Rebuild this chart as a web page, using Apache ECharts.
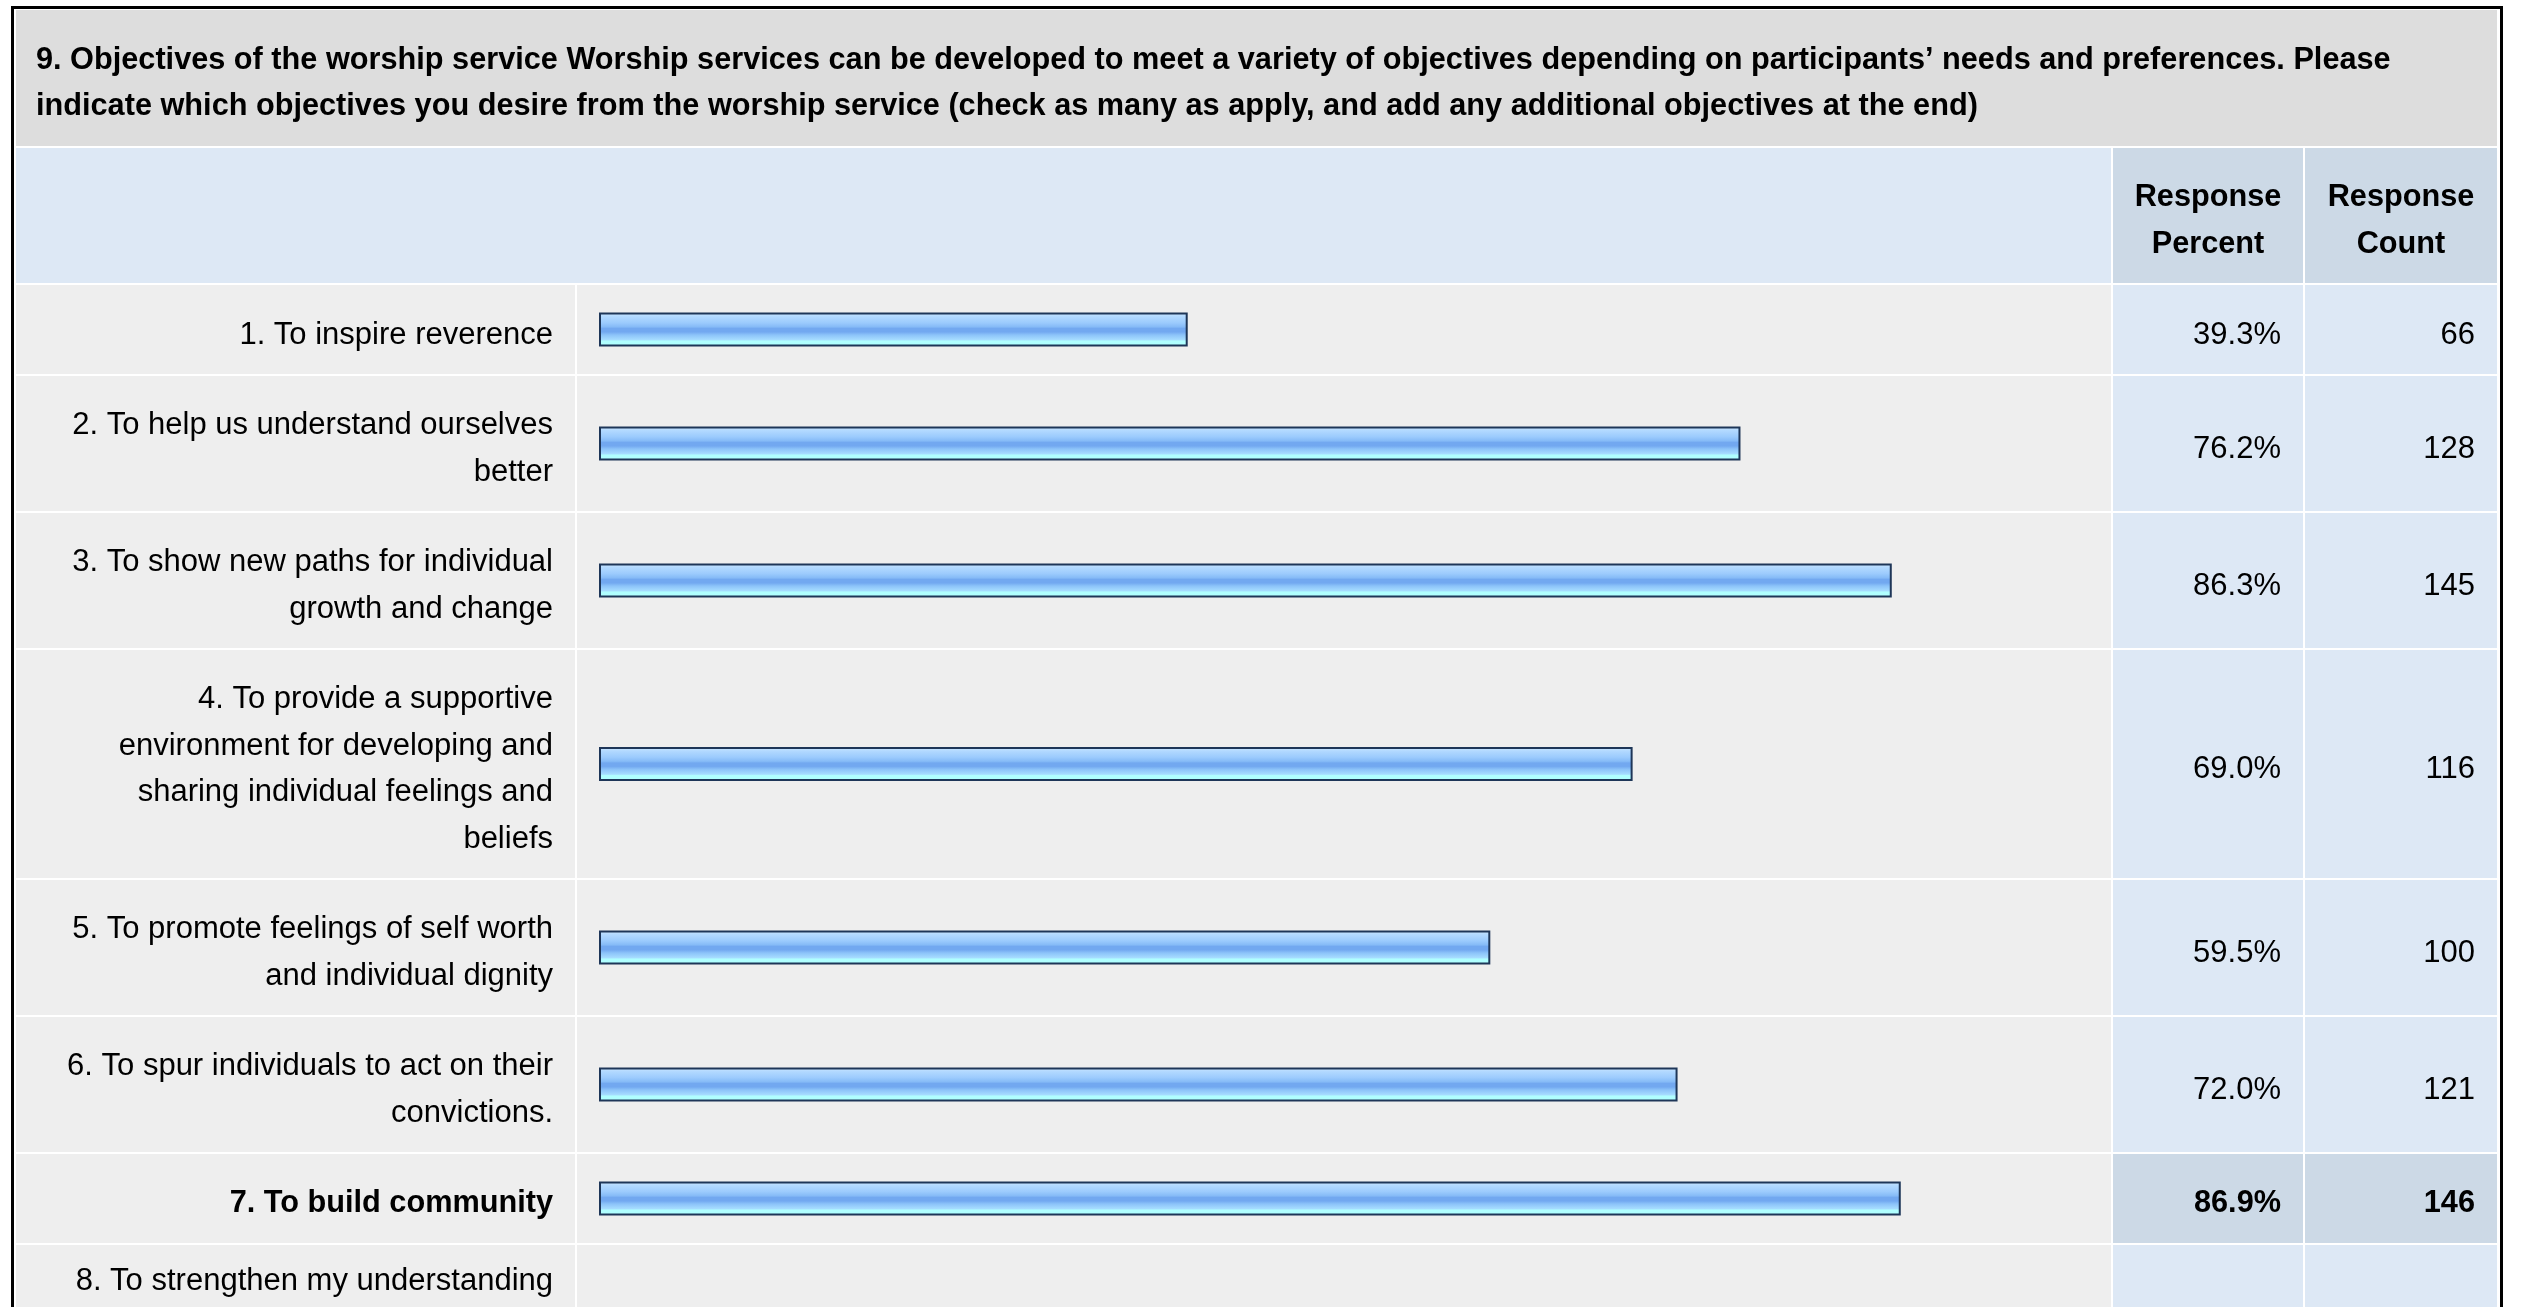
<!DOCTYPE html>
<html>
<head>
<meta charset="utf-8">
<script src="https://cdn.jsdelivr.net/npm/echarts@6/dist/echarts.min.js"></script>
<style>
html,body{margin:0;padding:0;background:#ffffff;}
#chart{width:2525px;height:1307px;}
</style>
</head>
<body>
<div id="chart"></div>
<script>
// ---- data ----
const titleText = '9. Objectives of the worship service Worship services can be developed to meet a variety of objectives depending on participants\u2019 needs and preferences. Please\nindicate which objectives you desire from the worship service (check as many as apply, and add any additional objectives at the end)';
const headerPercent = 'Response\nPercent';
const headerCount = 'Response\nCount';
const categories = [
  '1. To inspire reverence',
  '2. To help us understand ourselves\nbetter',
  '3. To show new paths for individual\ngrowth and change',
  '4. To provide a supportive\nenvironment for developing and\nsharing individual feelings and\nbeliefs',
  '5. To promote feelings of self worth\nand individual dignity',
  '6. To spur individuals to act on their\nconvictions.',
  '7. To build community',
  '8. To strengthen my understanding'
];
const responsePercent = [39.3, 76.2, 86.3, 69.0, 59.5, 72.0, 86.9, null];
const responseCount = [66, 128, 145, 116, 100, 121, 146, null];

// ---- layout ----
const FONT = '"Liberation Sans", Arial, Helvetica, sans-serif';
const FS = 31, FSB = 30.7, LH = 46.5, DY = 5.5;
const X0 = 16, XLAB = 575, XBAR0 = 577, XBAR1 = 2111, XP0 = 2113, XP1 = 2303, XC0 = 2305, XC1 = 2497;
const TITLE_TOP = 10, TITLE_BOT = 146, HEAD_TOP = 148, HEAD_BOT = 283, ROW0 = 285;
const GAP = 2;

const validPct = responsePercent.filter(v => v != null);
const maxPct = Math.max.apply(null, validPct);
const hiIdx = responsePercent.indexOf(maxPct);

const rowTops = [], rowHs = [];
let y = ROW0;
categories.forEach(c => {
  const lines = c.split('\n').length;
  const h = Math.round(42 + LH * lines);
  rowTops.push(y); rowHs.push(h);
  y += h + GAP;
});

const graphics = [];
function rect(x0, y0, x1, y1, fill) {
  graphics.push({type: 'rect', z: -10, silent: true,
    shape: {x: x0, y: y0, width: x1 - x0, height: y1 - y0}, style: {fill: fill}});
}
function text(str, x, yy, align, bold) {
  graphics.push({type: 'text', z: 10, silent: true, x: x, y: yy + DY,
    style: {text: str, fill: '#000000', fontSize: bold ? FSB : FS, fontFamily: FONT,
      fontWeight: bold ? 'bold' : 'normal', align: align, verticalAlign: 'middle', lineHeight: LH}});
}

// outer frame
graphics.push({type: 'rect', z: -20, silent: true,
  shape: {x: 12.5, y: 7.5, width: 2489, height: 1400},
  style: {fill: '#ffffff', stroke: '#000000', lineWidth: 3}});
// title
rect(X0, TITLE_TOP, XC1, TITLE_BOT, '#dddddd');
text(titleText, 36, (TITLE_TOP + TITLE_BOT) / 2, 'left', true);
// header
rect(X0, HEAD_TOP, XBAR1, HEAD_BOT, '#dde8f5');
rect(XP0, HEAD_TOP, XP1, HEAD_BOT, '#ccd9e6');
rect(XC0, HEAD_TOP, XC1, HEAD_BOT, '#ccd9e6');
text(headerPercent, (XP0 + XP1) / 2, (HEAD_TOP + HEAD_BOT) / 2, 'center', true);
text(headerCount, (XC0 + XC1) / 2, (HEAD_TOP + HEAD_BOT) / 2, 'center', true);

// rows
categories.forEach((c, i) => {
  const t = rowTops[i], b = t + rowHs[i];
  const hi = i === hiIdx;
  rect(X0, t, XLAB, b, '#eeeeee');
  rect(XBAR0, t, XBAR1, b, '#eeeeee');
  rect(XP0, t, XP1, b, hi ? '#ccd9e6' : '#dde8f5');
  rect(XC0, t, XC1, b, hi ? '#ccd9e6' : '#dde8f5');
  const cy = (t + b) / 2;
  if (responsePercent[i] != null) text(responsePercent[i].toFixed(1) + '%', XP1 - 22, cy, 'right', hi);
  if (responseCount[i] != null) text(String(responseCount[i]), XC1 - 22, cy, 'right', hi);
});

const barGradient = new echarts.graphic.LinearGradient(0, 0, 0, 1, [
  {offset: 0, color: '#cfe8ff'},
  {offset: 0.12, color: '#b2d9ff'},
  {offset: 0.3, color: '#9ccbfd'},
  {offset: 0.42, color: '#86bbf7'},
  {offset: 0.47, color: '#72a8f0'},
  {offset: 0.57, color: '#72a8f0'},
  {offset: 0.66, color: '#8cc3f9'},
  {offset: 0.8, color: '#a6dcff'},
  {offset: 0.84, color: '#b0ffff'},
  {offset: 1, color: '#b0ffff'}
]);

const grids = [], xAxes = [], yAxes = [], series = [];
categories.forEach((c, i) => {
  const hi = i === hiIdx;
  const txtStyle = {fontSize: hi ? FSB : FS, lineHeight: LH, fontFamily: FONT,
    fontWeight: hi ? 'bold' : 'normal', color: '#000000', align: 'right'};
  grids.push({left: 599, width: 1498, top: rowTops[i], height: rowHs[i], containLabel: false});
  xAxes.push({type: 'value', gridIndex: i, min: 0, max: 100, show: false, splitLine: {show: false}});
  yAxes.push({type: 'category', gridIndex: i, data: [c],
    axisLine: {show: false}, axisTick: {show: false}, splitLine: {show: false},
    axisLabel: Object.assign({show: true, margin: 46,
      formatter: function (v) {
        return '{s| }\n' + v.split('\n').map(l => '{t|' + l + '}').join('\n');
      },
      rich: {
        s: {fontSize: 4, lineHeight: DY * 2, height: DY * 2, align: 'right'},
        t: txtStyle
      }}, txtStyle)});
  series.push({type: 'bar', xAxisIndex: i, yAxisIndex: i, barWidth: 34, silent: true,
    animation: false, data: [responsePercent[i]],
    itemStyle: {color: barGradient, borderColor: '#1e3658', borderWidth: 2}});
});

const chart = echarts.init(document.getElementById('chart'), null, {renderer: 'canvas'});
chart.setOption({
  backgroundColor: '#ffffff',
  animation: false,
  grid: grids,
  xAxis: xAxes,
  yAxis: yAxes,
  series: series,
  graphic: {elements: graphics}
});
</script>
</body>
</html>
